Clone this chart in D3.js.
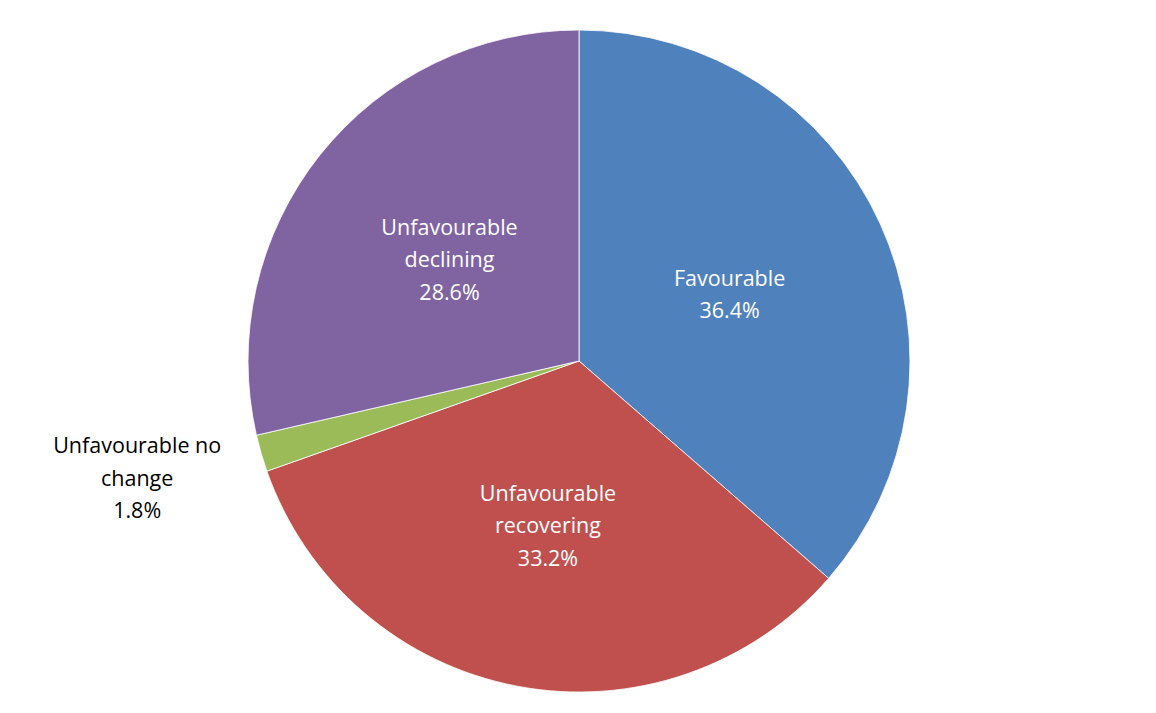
<!DOCTYPE html>
<html>
<head>
<meta charset="utf-8">
<script src="https://cdn.jsdelivr.net/npm/d3@7"></script>
<style>
  body { margin: 0; background: #fff; }
  text { font-family: "Open Sans", "Noto Sans", sans-serif; font-size: 21.5px; }
</style>
</head>
<body>
<div id="vis"></div>
<script>
const categories = ['Favourable', 'Unfavourable recovering', 'Unfavourable no change', 'Unfavourable declining'];
const values = [36.4, 33.2, 1.8, 28.6];
const labelLines = [
  ['Favourable'],
  ['Unfavourable', 'recovering'],
  ['Unfavourable no', 'change'],
  ['Unfavourable', 'declining']
];
const colors = ['#4F81BD', '#C0504D', '#9BBB59', '#8064A2'];

const width = 1156, height = 713;
const cx = 579, cy = 361, radius = 331;

const svg = d3.select('#vis')
    .append('svg')
    .attr('width', width)
    .attr('height', height)
    .append('g')
    .attr('transform', `translate(${cx},${cy})`);

const data = categories.map((c, i) => ({name: c, value: values[i], lines: labelLines[i], color: colors[i]}));

const pie = d3.pie().value(d => d.value).sort(null);
const arc = d3.arc().innerRadius(0).outerRadius(radius);
const labelArc = d3.arc().innerRadius(radius * 0.5).outerRadius(radius * 0.5);

const arcs = pie(data);

svg.selectAll('.slice')
    .data(arcs)
    .join('path')
    .attr('class', 'slice')
    .attr('d', arc)
    .style('fill', d => d.data.color)
    .style('stroke', '#fff')
    .style('stroke-width', 0.8);

const lineH = 32.5;

const labels = svg.selectAll('.label')
    .data(arcs)
    .join('text')
    .attr('class', 'label')
    .attr('text-anchor', 'middle')
    .style('fill', d => d.data.value < 5 ? '#000' : '#fff')
    .attr('transform', d => {
        let p;
        if (d.data.value < 5) {
            // small slice: label placed outside, a little above the slice direction
            const a = (d.startAngle + d.endAngle) / 2;
            const r = radius * 1.39;
            p = [Math.sin(a) * r, -Math.cos(a) * r - 11];
        } else {
            p = labelArc.centroid(d);
            p[1] += 2;
        }
        return `translate(${p[0]},${p[1]})`;
    });

labels.each(function(d) {
    const lines = d.data.lines.concat([d.data.value.toFixed(1) + '%']);
    const t = d3.select(this);
    const y0 = -(lines.length - 1) / 2 * lineH;
    lines.forEach((l, i) => {
        t.append('tspan')
            .attr('x', 0)
            .attr('y', y0 + i * lineH)
            .attr('dy', '0.35em')
            .text(l);
    });
});
</script>
</body>
</html>
